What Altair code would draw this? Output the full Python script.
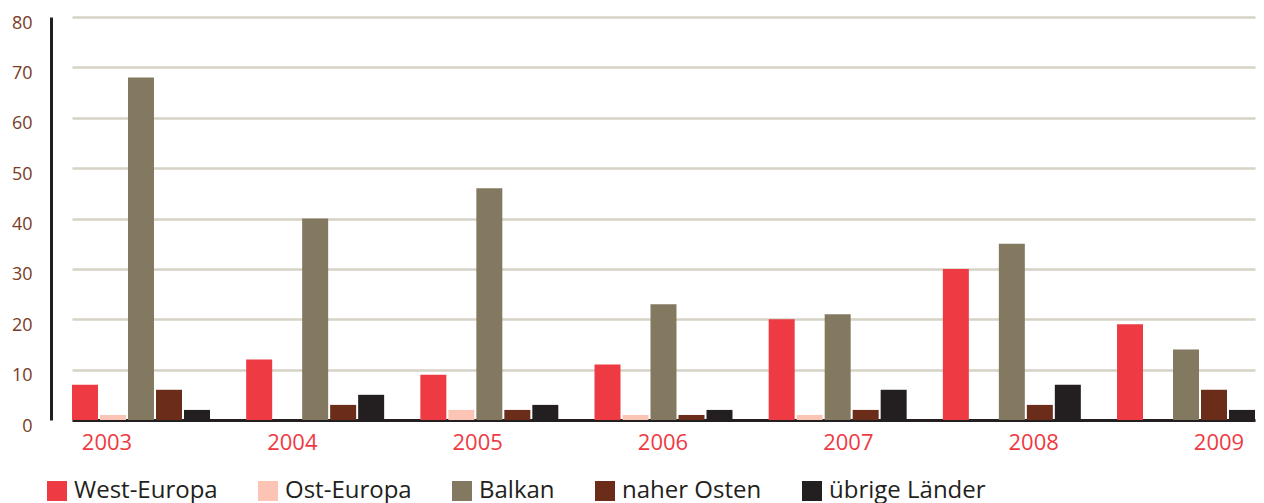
import altair as alt
import pandas as pd

years = ["2003", "2004", "2005", "2006", "2007", "2008", "2009"]
series = ["West-Europa", "Ost-Europa", "Balkan", "naher Osten", "übrige Länder"]
colors = ["#ee3a43", "#fbc4b4", "#837961", "#6b2c1a", "#231f20"]

west = [7, 12, 9, 11, 20, 30, 19]
ost = [1, 0, 2, 1, 1, 0, 0]
balkan = [68, 40, 46, 23, 21, 35, 14]
naher = [6, 3, 2, 1, 2, 3, 6]
uebrige = [2, 5, 3, 2, 6, 7, 2]

rows = []
for s, vals in zip(series, [west, ost, balkan, naher, uebrige]):
    for y, v in zip(years, vals):
        rows.append({"year": y, "series": s, "value": v})
df = pd.DataFrame(rows)

FONT = "Open Sans"

bars = alt.Chart(df).mark_bar().encode(
    x=alt.X("year:N", sort=years,
            scale=alt.Scale(range=[21, 1204], paddingInner=0.2078, paddingOuter=0),
            axis=alt.Axis(labels=False, ticks=False, title=None, grid=False,
                          domainColor="#231f20", domainWidth=3)),
    xOffset=alt.XOffset("series:N", sort=series,
                        scale=alt.Scale(paddingInner=0.0714, paddingOuter=0)),
    y=alt.Y("value:Q", scale=alt.Scale(domain=[0, 80]),
            axis=alt.Axis(values=list(range(0, 90, 10)), title=None, ticks=False,
                          domainColor="#231f20", domainWidth=3,
                          gridColor="#d6d2c6", gridWidth=2.5,
                          labelColor="#7a3b27", labelFontSize=18, labelFont=FONT,
                          labelPadding=19, labelOffset=6)),
    color=alt.Color("series:N", sort=series,
                    scale=alt.Scale(domain=series, range=colors),
                    legend=alt.Legend(title=None, orient="none", legendX=-6, legendY=462,
                                      direction="horizontal", symbolType="square",
                                      symbolSize=400, symbolStrokeWidth=0,
                                      labelFontSize=24, labelFont=FONT,
                                      labelColor="#231f20", labelOffset=5,
                                      columnPadding=38, padding=0)),
)

labels = alt.Chart(pd.DataFrame({"year": years})).mark_text(
    baseline="alphabetic", align="center", fontSize=22, font=FONT, color="#ee3a43"
).encode(
    x=alt.X("year:N", sort=years,
            scale=alt.Scale(type="point", range=[56, 1168], padding=0), axis=None),
    y=alt.value(433),
    text="year:N",
)

chart = alt.layer(bars, labels).resolve_scale(x="independent").properties(
    width=1205, height=403,
    autosize=alt.AutoSizeParams(type="none"),
    padding={"left": 43, "top": 9, "right": 0, "bottom": 86},
).configure_view(stroke=None)

chart.save("out.html", embed_options={"renderer": "svg", "actions": False})
